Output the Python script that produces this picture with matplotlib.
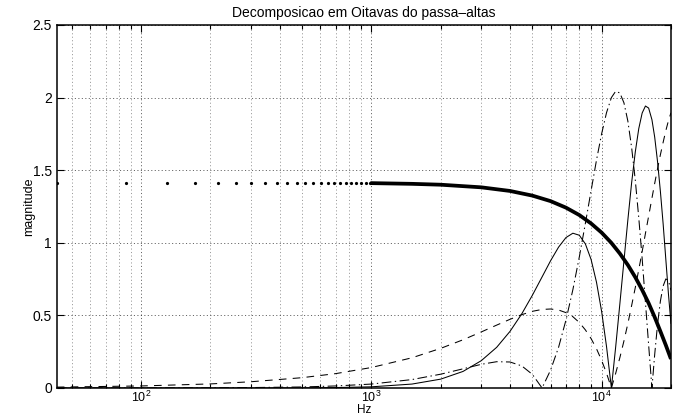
import matplotlib
matplotlib.use('Agg')
import matplotlib.pyplot as plt
from matplotlib.ticker import LogLocator, NullFormatter

plt.rcParams['font.family'] = ['Liberation Sans', 'DejaVu Sans']
plt.rcParams['mathtext.fontset'] = 'custom'
plt.rcParams['mathtext.rm'] = 'Liberation Sans'
plt.rcParams['lines.scale_dashes'] = False

# frequency points (Hz)
freq_hz = [43, 100, 200, 300, 500, 700, 1000, 1500, 2000, 2500, 3000, 3500,
           4000, 4500, 5000, 5512, 6000, 6500, 7000, 7500, 8000, 8500, 9000,
           9500, 10000, 10500, 11025, 11500, 12000, 12500, 13000, 13500,
           14000, 14500, 15000, 15500, 16000, 16537, 17000, 17500, 18000,
           18500, 19000, 19500, 20000]
solid_mag = [0.0, 0.0, 0.0, 0.0, 0.001, 0.003, 0.008, 0.027, 0.061, 0.114,
             0.188, 0.280, 0.390, 0.511, 0.638, 0.765, 0.876, 0.970, 1.036,
             1.066, 1.052, 0.992, 0.885, 0.728, 0.527, 0.286, 0.0, 0.278,
             0.580, 0.876, 1.158, 1.414, 1.625, 1.787, 1.894, 1.942, 1.928,
             1.848, 1.728, 1.556, 1.353, 1.130, 0.887, 0.651, 0.445]
dashed_mag = [0.006, 0.014, 0.028, 0.043, 0.071, 0.099, 0.141, 0.208, 0.273,
              0.332, 0.386, 0.433, 0.473, 0.505, 0.528, 0.541, 0.544, 0.537,
              0.519, 0.491, 0.451, 0.400, 0.340, 0.270, 0.190, 0.102, 0.0,
              0.099, 0.209, 0.324, 0.444, 0.568, 0.691, 0.816, 0.940, 1.065,
              1.183, 1.307, 1.409, 1.512, 1.607, 1.692, 1.772, 1.840, 1.895]
dashdot_mag = [0.0, 0.0, 0.001, 0.003, 0.007, 0.014, 0.027, 0.058, 0.095,
               0.132, 0.163, 0.181, 0.179, 0.152, 0.094, 0.0, 0.123, 0.280,
               0.468, 0.677, 0.903, 1.134, 1.359, 1.570, 1.751, 1.896, 2.0,
               2.043, 2.032, 1.964, 1.838, 1.655, 1.432, 1.171, 0.890, 0.589,
               0.297, 0.0, 0.230, 0.441, 0.599, 0.702, 0.751, 0.741, 0.673]

# thick low-pass curve: separate sample dots at low frequency, then solid
dot_hz = [43, 86, 129, 172, 215, 258, 301, 345, 388, 431, 474, 517, 560,
          603, 646, 689, 732, 775, 818, 861, 904, 947, 990]
dot_mag = [1.414, 1.414, 1.414, 1.414, 1.414, 1.414, 1.414, 1.414, 1.414,
           1.414, 1.414, 1.414, 1.414, 1.413, 1.413, 1.413, 1.413, 1.413,
           1.412, 1.412, 1.412, 1.411, 1.411]
thick_hz = [990, 1500, 2000, 3000, 4000, 5000, 6000, 7000, 8000, 9000,
            10000, 11000, 12000, 13000, 14000, 15000, 16000, 17000, 18000,
            19000, 20000]
thick_mag = [1.411, 1.406, 1.400, 1.382, 1.357, 1.325, 1.287, 1.242, 1.191,
             1.133, 1.070, 1.001, 0.926, 0.847, 0.763, 0.675, 0.584, 0.488,
             0.390, 0.295, 0.200]

y_ticks = [0, 0.5, 1, 1.5, 2, 2.5]
y_labels = ['0', '0.5', '1', '1.5', '2', '2.5']
x_ticks = [100, 1000, 10000]
x_labels = [r'$\mathregular{10^{2}}$', r'$\mathregular{10^{3}}$', r'$\mathregular{10^{4}}$']

fig = plt.figure(figsize=(6.88, 4.18), dpi=100)
ax = fig.add_axes([0.0828, 0.0718, 0.8924, 0.8684])
ax.set_xscale('log')

ax.plot(freq_hz, solid_mag, color='k', lw=0.75)
ax.plot(freq_hz, dashed_mag, color='k', lw=0.75, ls=(0, (5.5, 4.5)))
ax.plot(freq_hz, dashdot_mag, color='k', lw=0.75, ls=(0, (7, 2.5, 1, 2.5)))
ax.plot(dot_hz, dot_mag, ls='none', marker='o', ms=2.3, mec='none', mfc='k')
ax.plot(thick_hz, thick_mag, color='k', lw=2.7, solid_capstyle='butt')

ax.set_xlim(43.07, 20000)
ax.set_ylim(0, 2.5)
ax.set_yticks(y_ticks)
ax.set_yticklabels(y_labels)
ax.set_xticks(x_ticks)
ax.set_xticklabels(x_labels)
ax.xaxis.set_minor_locator(LogLocator(base=10, subs=range(2, 10)))
ax.xaxis.set_minor_formatter(NullFormatter())

ax.tick_params(which='both', direction='in', top=True, right=True,
               labelsize=10, width=0.8)
ax.tick_params(axis='x', which='major', pad=1, labelsize=9)
ax.tick_params(which='major', length=5)
ax.tick_params(which='minor', length=3)
ax.grid(True, which='major', color='k', alpha=0.7, lw=0.6, ls=(0, (0.8, 1.7)))
ax.grid(True, which='minor', axis='x', color='k', alpha=0.45, lw=0.6,
        ls=(0, (0.8, 1.7)))
for s in ax.spines.values():
    s.set_linewidth(1.1)

ax.set_title('Decomposicao em Oitavas do passa–altas', fontsize=10)
ax.set_xlabel('Hz', fontsize=8.5, labelpad=-0.5)
ax.set_ylabel('magnitude', fontsize=9, labelpad=-2)

fig.savefig('out.png', dpi=100)
